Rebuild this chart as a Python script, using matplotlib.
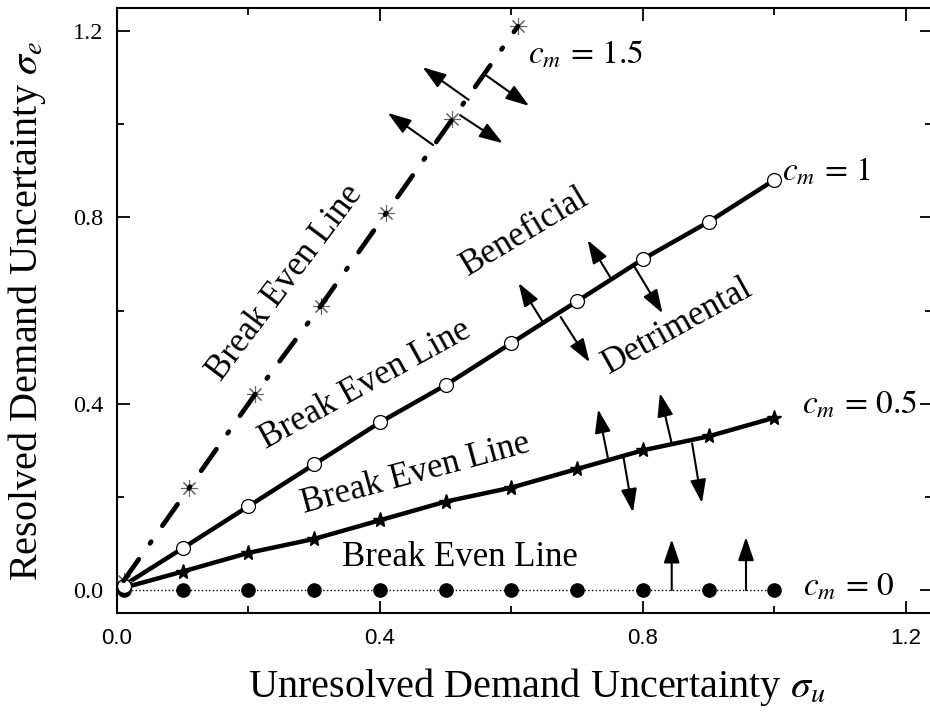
import matplotlib
matplotlib.use("Agg")
import matplotlib.pyplot as plt
from matplotlib.ticker import MultipleLocator, FixedLocator, FixedFormatter

plt.rcParams['mathtext.fontset'] = 'stix'
plt.rcParams['lines.scale_dashes'] = False

# ---- data ----
x_cm0 = [0.01, 0.1, 0.2, 0.3, 0.4, 0.5, 0.6, 0.7, 0.8, 0.9, 1.0]
y_cm0 = [0, 0, 0, 0, 0, 0, 0, 0, 0, 0, 0]

x_cm05 = [0.01, 0.1, 0.2, 0.3, 0.4, 0.5, 0.6, 0.7, 0.8, 0.9, 1.0]
y_cm05 = [0.005, 0.04, 0.08, 0.11, 0.15, 0.19, 0.22, 0.26, 0.30, 0.33, 0.37]

x_cm1 = [0.01, 0.1, 0.2, 0.3, 0.4, 0.5, 0.6, 0.7, 0.8, 0.9, 1.0]
y_cm1 = [0.01, 0.09, 0.18, 0.27, 0.36, 0.44, 0.53, 0.62, 0.71, 0.79, 0.88]

x_cm15 = [0.01, 0.11, 0.21, 0.31, 0.41, 0.51, 0.61]
y_cm15 = [0.02, 0.22, 0.42, 0.61, 0.81, 1.01, 1.21]

# arrows: (x_start, y_start, x_end, y_end)
arrows = [
    (0.481, 0.955, 0.412, 1.024), (0.522, 1.019, 0.587, 0.959),
    (0.535, 1.052, 0.465, 1.122), (0.561, 1.105, 0.627, 1.039),
    (0.648, 0.575, 0.611, 0.659), (0.675, 0.586, 0.719, 0.489),
    (0.751, 0.670, 0.716, 0.751), (0.786, 0.697, 0.830, 0.594),
    (0.747, 0.283, 0.732, 0.388), (0.770, 0.290, 0.785, 0.167),
    (0.844, 0.315, 0.826, 0.423), (0.875, 0.315, 0.890, 0.187),
    (0.844, 0.0, 0.844, 0.109), (0.957, 0.0, 0.957, 0.114),
]

x_ticks_major = [0.0, 0.4, 0.8, 1.2]
x_tick_labels = ["0.0", "0.4", "0.8", "1.2"]
y_ticks_major = [0.0, 0.4, 0.8, 1.2]
y_tick_labels = ["0.0", "0.4", "0.8", "1.2"]

SERIF = 'Liberation Serif'
SANS = 'Liberation Sans'

fig = plt.figure(figsize=(9.30, 7.16), dpi=100)
ax = fig.add_axes([117/930, 103/716, (932-117)/930, (613-8)/716])
ax.set_xlim(0.0, 1.24)
ax.set_ylim(-0.049, 1.249)

# c_m = 0
ax.plot(x_cm0, y_cm0, linestyle=':', color='black', linewidth=1.0,
        marker='o', markersize=9.5, markerfacecolor='black', markeredgecolor='black', zorder=3)
# c_m = 0.5
ax.plot(x_cm05, y_cm05, linestyle='-', color='black', linewidth=3.2,
        marker='*', markersize=11, markerfacecolor='black', markeredgecolor='black', zorder=3)
# c_m = 1
ax.plot(x_cm1, y_cm1, linestyle='-', color='black', linewidth=3.2, zorder=3)
ax.plot(x_cm1, y_cm1, linestyle='none', marker='o', markersize=10,
        markerfacecolor='white', markeredgecolor='black', markeredgewidth=0.9, zorder=4)
# c_m = 1.5
ax.plot(x_cm15, y_cm15, linestyle='none', marker=(8, 2, 0), markersize=12,
        markeredgecolor='#666666', markeredgewidth=0.8, zorder=3)
ax.plot(x_cm15, y_cm15, color='black', linewidth=3.4,
        dashes=(19, 14, 1.5, 14), dash_capstyle='round', zorder=4)

for (x0, y0, x1, y1) in arrows:
    ax.annotate('', xy=(x1, y1), xytext=(x0, y0),
                arrowprops=dict(arrowstyle='-|>,head_length=0.65,head_width=0.22',
                                color='black', lw=1.5,
                                mutation_scale=22, shrinkA=0, shrinkB=0),
                zorder=5)

# texts
tfs = 25
ax.text(0.256, 0.659, 'Break Even Line', rotation=53, rotation_mode='anchor',
        ha='center', va='center', family=SERIF, fontsize=tfs)
ax.text(0.377, 0.44, 'Break Even Line', rotation=28.8, rotation_mode='anchor',
        ha='center', va='center', family=SERIF, fontsize=tfs)
ax.text(0.455, 0.25, 'Break Even Line', rotation=15.2, rotation_mode='anchor',
        ha='center', va='center', family=SERIF, fontsize=tfs)
ax.text(0.522, 0.069, 'Break Even Line', rotation=0,
        ha='center', va='center', family=SERIF, fontsize=tfs)
ax.text(0.621, 0.768, 'Beneficial', rotation=31, rotation_mode='anchor',
        ha='center', va='center', family=SERIF, fontsize=tfs)
ax.text(0.853, 0.567, 'Detrimental', rotation=29, rotation_mode='anchor',
        ha='center', va='center', family=SERIF, fontsize=tfs)

cfs = 24
ax.text(0.625, 1.15, r'$c_m\,=\,1.5$', ha='left', va='center', fontsize=cfs)
ax.text(1.012, 0.90, r'$c_m\,=\,1$', ha='left', va='center', fontsize=cfs)
ax.text(1.042, 0.40, r'$c_m\,=\,0.5$', ha='left', va='center', fontsize=cfs)
ax.text(1.043, 0.01, r'$c_m\,=\,0$', ha='left', va='center', fontsize=cfs)

# axes styling
for sp in ax.spines.values():
    sp.set_linewidth(1.5)
ax.spines['right'].set_visible(False)
ax.xaxis.set_major_locator(FixedLocator(x_ticks_major))
ax.xaxis.set_major_formatter(FixedFormatter(x_tick_labels))
ax.xaxis.set_minor_locator(MultipleLocator(0.2))
ax.yaxis.set_major_locator(FixedLocator(y_ticks_major))
ax.yaxis.set_major_formatter(FixedFormatter(y_tick_labels))
ax.yaxis.set_minor_locator(MultipleLocator(0.2))
ax.tick_params(which='both', direction='in', top=True, right=True, width=1.3)
ax.tick_params(which='major', length=9)
ax.tick_params(which='minor', length=5)
ax.tick_params(axis='x', which='major', pad=11, labelsize=16, labelfontfamily=SANS)
ax.tick_params(axis='y', which='major', pad=10, labelsize=17.5, labelfontfamily=SERIF)

ax.set_xlabel(r'Unresolved Demand Uncertainty $\sigma_u$', family=SERIF, fontsize=29, labelpad=12)
ax.xaxis.label.set_x(0.5 + 12/815)
ax.set_ylabel(r'Resolved Demand Uncertainty $\sigma_e$', family=SERIF, fontsize=29, labelpad=18)

fig.savefig('out.png', dpi=100)
